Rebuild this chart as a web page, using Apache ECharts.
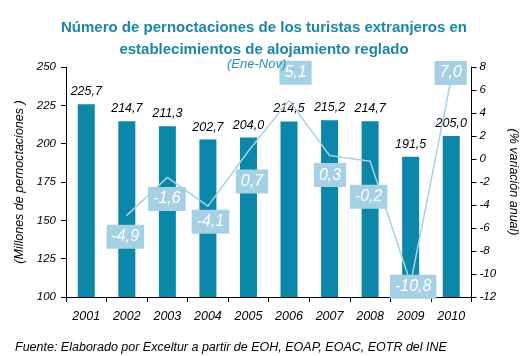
<!DOCTYPE html>
<html>
<head>
<meta charset="utf-8">
<script src="https://cdn.jsdelivr.net/npm/echarts@6/dist/echarts.min.js"></script>
<style>html,body{margin:0;padding:0;background:#fff;}#c{width:528px;height:356px;}</style>
</head>
<body>
<div id="c"></div>
<script>
const categories = ['2001','2002','2003','2004','2005','2006','2007','2008','2009','2010'];
const nights = [225.7, 214.7, 211.3, 202.7, 204.0, 214.5, 215.2, 214.7, 191.5, 205.0];
const variation = [null, -4.9, -1.6, -4.1, 0.7, 5.1, 0.3, -0.2, -10.8, 7.0];
const labelOffsetY = [0, 22, 22, 16, 31, -27, 20, 36, 4, -5];
const labelOffsetX = [0, -1, 0, 3, 4, 7, 1, -1, 3, 0];

const fmt = v => v.toFixed(1).replace('.', ',');
const FONT = 'Liberation Sans';
const chart = echarts.init(document.getElementById('c'));
chart.setOption({
  animation: false,
  textStyle: {fontFamily: FONT},
  title: [
    {text: 'Número de pernoctaciones de los turistas extranjeros en\nestablecimientos de alojamiento reglado', left: 'center', top: 12,
     textStyle: {color: '#1b86a8', fontSize: 15, fontWeight: 'bold', lineHeight: 22, fontFamily: FONT}},
    {text: '(Ene-Nov)', left: 222, top: 53, textStyle: {color: '#2a8fb5', fontSize: 13, fontStyle: 'italic', fontWeight: 'normal', fontFamily: FONT}},
    {text: 'Fuente: Elaborado por Exceltur a partir de EOH, EOAP, EOAC, EOTR del INE', left: 10, top: 336,
     textStyle: {color: '#000', fontSize: 12.5, fontStyle: 'italic', fontWeight: 'normal', fontFamily: FONT}}
  ],
  grid: {left: 66, right: 46, top: 67, bottom: 59},
  xAxis: {
    type: 'category', data: categories,
    axisLine: {onZero: false, lineStyle: {color: '#000'}},
    axisTick: {show: true, length: 5, lineStyle: {color: '#000'}},
    axisLabel: {color: '#000', fontSize: 12.5, fontStyle: 'italic', margin: 13}
  },
  yAxis: [
    {type: 'value', min: 100, max: 250, interval: 25,
     name: '(Millones de pernoctaciones )', nameLocation: 'middle', nameGap: 36, nameRotate: 90,
     nameTextStyle: {color: '#000', fontSize: 12.5, fontStyle: 'italic'},
     axisLine: {show: true, lineStyle: {color: '#000'}},
     axisTick: {show: true, length: 5, lineStyle: {color: '#000'}},
     axisLabel: {color: '#000', fontSize: 11.5, fontStyle: 'italic', margin: 10},
     splitLine: {show: false}},
    {type: 'value', min: -12, max: 8, interval: 2,
     name: '(% variación anual)', nameLocation: 'middle', nameGap: 23, nameRotate: -90,
     nameTextStyle: {color: '#000', fontSize: 12.5, fontStyle: 'italic'},
     axisLine: {show: true, lineStyle: {color: '#000'}},
     axisTick: {show: true, length: 5, inside: false, lineStyle: {color: '#000'}},
     axisLabel: {color: '#000', fontSize: 11.5, fontStyle: 'italic', margin: 8},
     splitLine: {show: false}}
  ],
  series: [
    {type: 'bar', data: nights, barWidth: 17, yAxisIndex: 0,
     itemStyle: {color: '#0b87a9'},
     label: {show: true, position: 'top', distance: 6, color: '#000', fontSize: 12.5, fontStyle: 'italic',
             formatter: p => fmt(p.value)}},
    {type: 'line', yAxisIndex: 1, symbol: 'circle', symbolSize: 1, showSymbol: true, z: 5,
     itemStyle: {color: '#a8d2e6'},
     lineStyle: {color: '#a8d2e6', width: 1.5},
     labelLayout: {hideOverlap: false},
     data: variation.map((v, i) => ({
       value: v,
       label: {show: v !== null, position: [labelOffsetX[i], labelOffsetY[i]], align: 'center', verticalAlign: 'middle'}
     })),
     label: {show: true, color: '#fff', fontSize: 16, fontStyle: 'italic', backgroundColor: '#a6d0e4',
             padding: [5, 5, 3, 5], formatter: p => fmt(p.value)}}
  ]
});
</script>
</body>
</html>
